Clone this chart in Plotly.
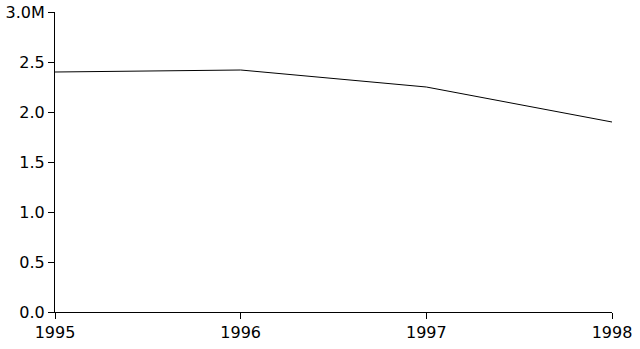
import plotly.graph_objects as go

years = [1995, 1996, 1997, 1998]
values = [2400000, 2420000, 2250000, 1900000]
y_tick_vals = [0, 500000, 1000000, 1500000, 2000000, 2500000, 3000000]
y_tick_text = ["0.0", "0.5", "1.0", "1.5", "2.0", "2.5", "3.0M"]
x_tick_text = ["1995", "1996", "1997", "1998"]

fig = go.Figure()
fig.add_trace(go.Scatter(x=years, y=values, mode="lines",
                         line=dict(color="black", width=1), showlegend=False,
                         hoverinfo="skip"))

font = dict(family="DejaVu Sans, Verdana, sans-serif", size=16, color="black")
fig.update_layout(
    width=640, height=349,
    margin=dict(l=55, r=28, t=12, b=37, pad=0),
    paper_bgcolor="white", plot_bgcolor="white",
    font=font,
    xaxis=dict(range=[1995, 1998], tickvals=years, ticktext=x_tick_text,
               showgrid=False, zeroline=False, showline=True, linecolor="black",
               linewidth=1, ticks="outside", ticklen=6, tickcolor="black",
               tickfont=font, automargin=False),
    yaxis=dict(range=[0, 3000000], tickvals=y_tick_vals, ticktext=y_tick_text,
               showgrid=False, zeroline=False, showline=True, linecolor="black",
               linewidth=1, ticks="outside", ticklen=6, tickcolor="black",
               tickfont=font, automargin=False),
)
fig.write_html("out.html")
